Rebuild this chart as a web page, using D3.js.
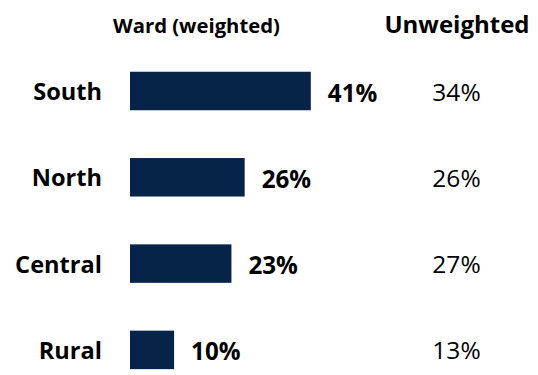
<!DOCTYPE html>
<html><head><meta charset="utf-8">
<script src="https://cdn.jsdelivr.net/npm/d3@7"></script>
<style>
  body { margin: 0; background: #fff; }
  text { font-family: "Open Sans", sans-serif; fill: #000; }
</style>
</head>
<body>
<svg id="chart" width="538" height="375"></svg>
<script>
// Share of respondents by area
const areas = ["South", "North", "Central", "Rural"];
const weighted = [41, 26, 23, 10];     // ward-weighted share, %
const unweighted = [34, 26, 27, 13];   // raw share, %
const headers = ["Ward (weighted)", "Unweighted"];

const svg = d3.select("#chart");

const x = d3.scaleLinear().domain([0, 100]).range([130, 571]);
const y = d3.scaleBand()
  .domain(areas)
  .range([47.85, 393.05])
  .paddingInner(0.554)
  .paddingOuter(0.277);

const rows = areas.map((a, i) => ({ area: a, w: weighted[i], u: unweighted[i] }));
const fmt = v => v + "%";

// column headers
svg.append("text")
  .attr("x", 196.5).attr("y", 33.3)
  .attr("text-anchor", "middle")
  .attr("font-size", 20.3).attr("font-weight", 700)
  .text(headers[0]);
svg.append("text")
  .attr("x", 457).attr("y", 33.3)
  .attr("text-anchor", "middle")
  .attr("font-size", 24).attr("font-weight", 700)
  .text(headers[1]);

const row = svg.selectAll("g.row").data(rows).join("g").attr("class", "row");

// bars
row.append("rect")
  .attr("x", x(0))
  .attr("y", d => y(d.area))
  .attr("width", d => x(d.w) - x(0))
  .attr("height", y.bandwidth())
  .attr("fill", "#06234a");

// area names
row.append("text")
  .attr("x", 102)
  .attr("y", d => y(d.area) + y.bandwidth() / 2 + 9)
  .attr("text-anchor", "end")
  .attr("font-size", 23.6).attr("font-weight", 700)
  .text(d => d.area);

// weighted value labels
row.append("text")
  .attr("x", d => x(d.w) + 17)
  .attr("y", d => y(d.area) + y.bandwidth() / 2 + 10.5)
  .attr("font-size", 24.2).attr("font-weight", 700)
  .text(d => fmt(d.w));

// unweighted values
row.append("text")
  .attr("x", 456.5)
  .attr("y", d => y(d.area) + y.bandwidth() / 2 + 9.5)
  .attr("text-anchor", "middle")
  .attr("font-size", 24.5).attr("font-weight", 400)
  .text(d => fmt(d.u));
</script>
</body></html>
